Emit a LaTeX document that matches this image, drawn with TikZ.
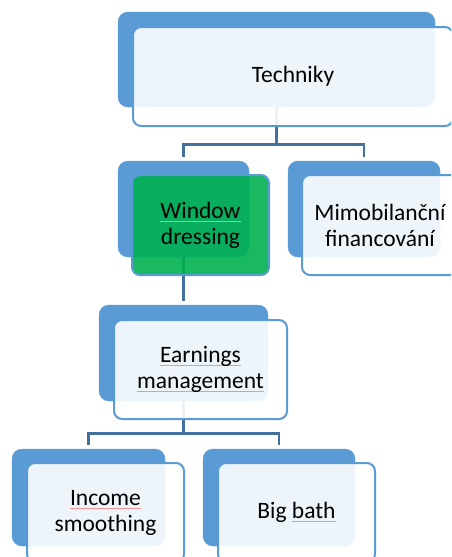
\documentclass[tikz,border=0pt]{standalone}
\usepackage{fontspec}
\setmainfont{Carlito}
\definecolor{boxblue}{RGB}{91,155,213}
\definecolor{linkblue}{RGB}{65,113,156}
\definecolor{boxgreen}{RGB}{0,176,80}
\definecolor{spellred}{RGB}{240,150,150}
% red marker line under flagged words
\newlength{\spellw}
\newcommand{\spell}[1]{\settowidth{\spellw}{#1}\rlap{\textcolor{spellred}{\rule[-3pt]{\spellw}{0.45pt}}}#1}
\tikzset{
	backbox/.style={fill=boxblue, draw=boxblue, rounded corners=10pt, inner sep=0pt},
	frontbox/.style={fill=white, fill opacity=0.9, text opacity=1, draw=boxblue, line width=2pt,
		rounded corners=8pt, inner sep=0pt, align=center,
		font=\fontsize{23.5}{26}\selectfont},
	link/.style={draw=linkblue, line width=2.6pt}
}
\begin{document}
\begin{tikzpicture}[x=1pt,y=-1pt]
		\useasboundingbox (0,0) rectangle (451,557);
		\clip (0,0) rectangle (451,557);
		%Back shapes of the boxes
		\node [backbox, minimum width=317pt, minimum height=95pt] (techB) at (276.5,59.5) {};
		\node [backbox, minimum width=131pt, minimum height=96pt] (winB) at (183.5,209) {};
		\node [backbox, minimum width=152pt, minimum height=96pt] (mimoB) at (364,209) {};
		\node [backbox, minimum width=169pt, minimum height=96pt] (earnB) at (183.5,353) {};
		\node [backbox, minimum width=153pt, minimum height=97pt] (incB) at (88.5,497.5) {};
		\node [backbox, minimum width=152pt, minimum height=97pt] (bigB) at (279,497.5) {};
		%Connectors between the levels
		\draw [link] (techB.south) -- ++(0,37) -| ([yshift=4pt]winB.north);
		\draw [link] (techB.south) -- ++(0,37) -| ([yshift=4pt]mimoB.north);
		\draw [link] (winB.south) -- ([yshift=4pt]earnB.north);
		\draw [link] (earnB.south) -- ++(0,32) -| ([yshift=4pt]incB.north);
		\draw [link] (earnB.south) -- ++(0,32) -| ([yshift=4pt]bigB.north);
		%Front shapes with the texts
		\node [frontbox, minimum width=320pt, minimum height=99pt] (tech) at (293,76.5) {Techniky};
		\node [frontbox, fill=boxgreen, minimum width=137pt, minimum height=100pt] (win) at (200.5,225) {\spell{Window}\\dressing};
		\node [frontbox, minimum width=156pt, minimum height=100pt] (mimo) at (380,225) {Mimobilanční\\financování};
		\node [frontbox, minimum width=173pt, minimum height=99pt] (earn) at (200.5,369.5) {\spell{Earnings}\\\spell{management}};
		\node [frontbox, minimum width=157pt, minimum height=99pt] (inc) at (105.5,512.5) {\spell{Income}\\smoothing};
		\node [frontbox, minimum width=157pt, minimum height=99pt] (big) at (296.5,512.5) {Big \spell{bath}};
\end{tikzpicture}
\end{document}
